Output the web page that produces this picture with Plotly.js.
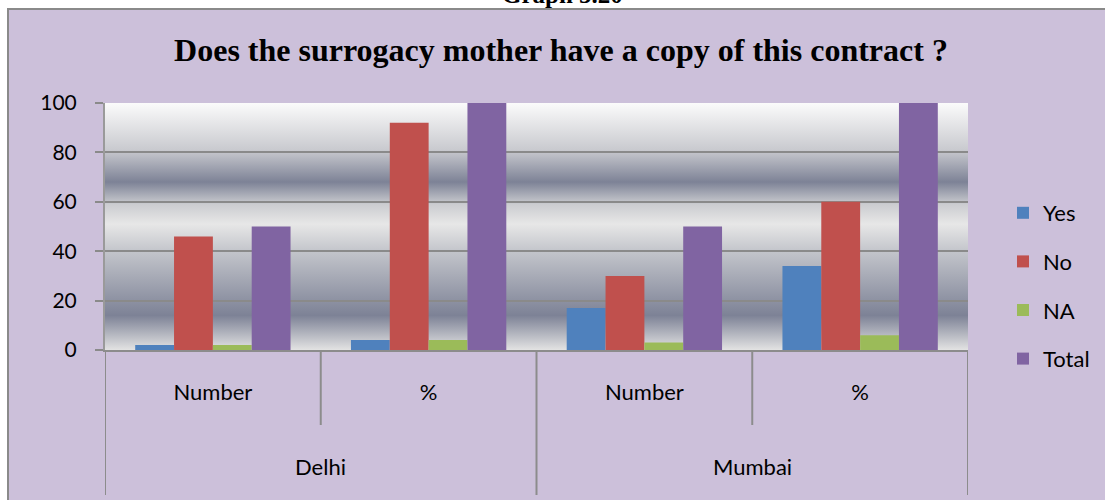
<!DOCTYPE html>
<html>
<head>
<meta charset="utf-8">
<script src="https://cdn.plot.ly/plotly-3.0.1.min.js"></script>
<style>html,body{margin:0;padding:0;background:#fff;}#chart{width:1105px;height:500px;}</style>
</head>
<body>
<div id="chart"></div>
<script>
// ---- data ----
const cities = ["Delhi", "Delhi", "Mumbai", "Mumbai"];
const measures = ["Number", "%", "Number", "%"];
const seriesNames = ["Yes", "No", "NA", "Total"];
const yesValues = [2, 4, 17, 34];
const noValues = [46, 92, 30, 60];
const naValues = [2, 4, 3, 6];
const totalValues = [50, 100, 50, 100];
const seriesColors = ["#4f81bd", "#c0504d", "#9bbb59", "#8064a2"];
const yTicks = [0, 20, 40, 60, 80, 100];
const titleText = "Does the surrogacy mother have a copy of this contract ?";
const captionText = "Graph 5.20";

// ---- build ----
const xIdx = measures.map((_, i) => i);
const allValues = [yesValues, noValues, naValues, totalValues];
const traces = allValues.map((vals, k) => ({
  type: "bar",
  name: seriesNames[k],
  x: xIdx,
  y: vals,
  marker: {color: seriesColors[k], line: {width: 0}},
  legendgroup: "g" + k,
  hoverinfo: "skip"
}));

// plot area in px: left 105, right 968, top 103, bottom 350
const L = 105, R = 968, T = 103, B = 350, W = R - L, H = B - T;
const py = px => (B - px) / H;   // pixel y -> paper y
const pxx = px => (px - L) / W;  // pixel x -> paper x

const stops = [
  [0, "#fbfbfb"], [0.19, "#c9cacf"], [0.32, "#7d8296"], [0.41, "#cbccd0"],
  [0.49, "#e7e7e7"], [0.6, "#c3c5cb"], [0.86, "#7d8296"], [1, "#e3e3e3"]
];
const svg = "<svg xmlns='http://www.w3.org/2000/svg' width='10' height='100' viewBox='0 0 10 100' preserveAspectRatio='none'>" +
  "<defs><linearGradient id='g' x1='0' y1='0' x2='0' y2='1'>" +
  stops.map(s => "<stop offset='" + s[0] + "' stop-color='" + s[1] + "'/>").join("") +
  "</linearGradient></defs><rect x='0' y='0' width='10' height='100' fill='url(#g)'/></svg>";
const gradSrc = "data:image/svg+xml;charset=utf-8," + encodeURIComponent(svg);

const shapes = [];
// white strips outside the chart frame
shapes.push({type: "rect", xref: "paper", yref: "paper", x0: -0.3, x1: pxx(8), y0: -0.7, y1: 1.5, fillcolor: "#ffffff", line: {width: 0}, layer: "below"});
shapes.push({type: "rect", xref: "paper", yref: "paper", x0: -0.3, x1: 1.3, y0: py(9), y1: 1.5, fillcolor: "#ffffff", line: {width: 0}, layer: "below"});
// frame
shapes.push({type: "rect", xref: "paper", yref: "paper", x0: pxx(8), x1: 1.3, y0: -0.7, y1: py(9), fillcolor: "rgba(0,0,0,0)", line: {color: "#8a8a8a", width: 2}, layer: "below"});
// dividers under the axis
for (let i = 0; i < measures.length - 1; i++) {
  const b = i + 0.5;
  const outer = cities[i] !== cities[i + 1];
  shapes.push({type: "line", xref: "x", yref: "paper", x0: b, x1: b, y0: 0, y1: outer ? py(495) : py(425), line: {color: "#8c8c8c", width: 2}});
}
shapes.push({type: "line", xref: "x", yref: "paper", x0: -0.5, x1: -0.5, y0: 0, y1: py(495), line: {color: "#8c8c8c", width: 2}});
shapes.push({type: "line", xref: "x", yref: "paper", x0: measures.length - 0.5, x1: measures.length - 0.5, y0: 0, y1: py(495), line: {color: "#8c8c8c", width: 2}});

// outer labels
const annotations = [];
const uniqCities = [...new Set(cities)];
uniqCities.forEach(c => {
  const idx = cities.map((v, i) => v === c ? i : null).filter(v => v !== null);
  const mid = (idx[0] + idx[idx.length - 1]) / 2;
  annotations.push({xref: "x", yref: "paper", x: mid, y: py(466), text: c, showarrow: false,
    xanchor: "center", yanchor: "middle", font: {family: "Lato, sans-serif", size: 22, color: "#000"}});
});
annotations.push({xref: "paper", yref: "paper", x: pxx(562), y: py(10), text: "<b>" + captionText + "</b>", showarrow: false,
  xanchor: "center", yanchor: "bottom", font: {family: "Liberation Serif, serif", size: 25, color: "#000"}});

const layout = {
  width: 1105, height: 500,
  margin: {l: L, r: 1105 - R, t: T, b: 500 - B, pad: 0, autoexpand: false},
  paper_bgcolor: "#ccc0da",
  plot_bgcolor: "rgba(0,0,0,0)",
  title: {text: "<b>" + titleText + "</b>", x: 561 / 1105, xanchor: "center", y: 1 - 50 / 500, yanchor: "middle",
    font: {family: "Liberation Serif, serif", size: 32, color: "#000"}},
  barmode: "group",
  bargap: 0.28,
  bargroupgap: 0,
  showlegend: true,
  legend: {x: pxx(1003), xanchor: "left", y: py(286), yanchor: "middle", tracegroupgap: 17, itemwidth: 30,
    font: {family: "Lato, sans-serif", size: 22, color: "#000"}, bgcolor: "rgba(0,0,0,0)", itemclick: false},
  xaxis: {
    range: [-0.5, measures.length - 0.5], tickmode: "array", tickvals: xIdx, ticktext: measures,
    showgrid: false, zeroline: false, showline: true, linecolor: "#8c8c8c", linewidth: 2,
    ticks: "", ticklabelstandoff: 22, tickfont: {family: "Lato, sans-serif", size: 22, color: "#000"}, fixedrange: true
  },
  yaxis: {
    range: [0, 100], tickmode: "array", tickvals: yTicks, ticktext: yTicks.map(String),
    showgrid: true, gridcolor: "#8a8a8a", gridwidth: 2, zeroline: false,
    showline: true, linecolor: "#9a9a9a", linewidth: 2,
    ticks: "outside", ticklen: 8, tickcolor: "#8a8a8a", tickwidth: 2, ticklabelstandoff: 14,
    tickfont: {family: "Lato, sans-serif", size: 21, color: "#000"}, fixedrange: true
  },
  images: [{source: gradSrc, xref: "paper", yref: "paper", x: 0, y: 1, sizex: 1, sizey: 1,
    sizing: "stretch", xanchor: "left", yanchor: "top", layer: "below"}],
  shapes: shapes,
  annotations: annotations
};

Plotly.newPlot("chart", traces, layout, {displayModeBar: false, staticPlot: true});
</script>
</body>
</html>
